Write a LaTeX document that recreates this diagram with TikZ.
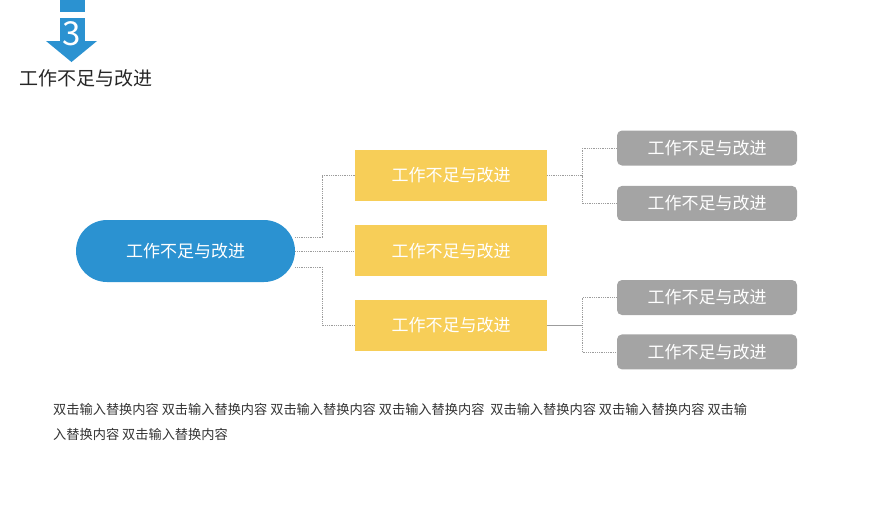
\documentclass[tikz,border=0pt]{standalone}
\usepackage{fontspec}
\setmainfont{Noto Sans CJK SC}
\usetikzlibrary{positioning}
\usetikzlibrary{backgrounds}
\definecolor{stepblue}{HTML}{2B92D1}
\definecolor{boxyellow}{HTML}{F7CE58}
\definecolor{boxgray}{HTML}{A4A4A4}
\definecolor{linegray}{HTML}{9C9C9C}
\tikzset{x=1pt, y=-1pt, % one unit is one pixel of the slide, y pointing down
pill/.style={ % The blue main topic
fill=stepblue, text=white,
rounded corners=31pt,
minimum width=219pt, minimum height=62pt,
font=\fontsize{17}{20}\selectfont},
ybox/.style={ % Yellow second level boxes
fill=boxyellow, text=white,
minimum width=192pt, minimum height=51pt,
font=\fontsize{17}{20}\selectfont},
gbox/.style={ % Gray leaves
fill=boxgray, text=white,
rounded corners=5pt,
minimum width=180pt, minimum height=35pt,
font=\fontsize{17}{20}\selectfont},
link/.style={ % Dotted connectors
draw=linegray, densely dotted, line width=0.8pt}}

\begin{document}
\begin{tikzpicture}
    \useasboundingbox (0,0) rectangle (896,504);
    % step marker
    \fill[stepblue] (60,0) rectangle (85,12);
    \fill[stepblue] (60,18) rectangle (85,41);
    \fill[stepblue] (46,41) -- (97,41) -- (71.5,62) -- cycle;
    \node[text=white, font=\fontsize{33}{36}\selectfont] (num) at (71.5,34) {3};
    \node[anchor=west, text=black!85, font=\fontsize{19}{22}\selectfont] (title) at (16,78) {工作不足与改进};

    \node[pill] (main) at (185.5,251) {工作不足与改进};
    \node[ybox] (y1) at (451,175.5) {工作不足与改进};
    \node[ybox, below=24pt of y1] (y2) {工作不足与改进};
    \node[ybox, below=23pt of y2] (y3) {工作不足与改进};
    \node[gbox] (g1) at (707,148) {工作不足与改进};
    \node[gbox, below=20pt of g1] (g2) {工作不足与改进};
    \node[gbox] (g3) at (707,297.5) {工作不足与改进};
    \node[gbox, below=19pt of g3] (g4) {工作不足与改进};

    \begin{pgfonlayer}{background}
    \draw[link] ([yshift=14pt]main.east) -- ++(27,0) |- (y1.west);
    \draw[link] (main.east |- y2.west) -- (y2.west);
    \draw[link] ([yshift=-16pt]main.east) -- ++(27,0) |- (y3.west);
    \draw[link] (y1.east) -- ++(35,0) coordinate (r1);
    \draw[link] (r1) |- (g1.west);
    \draw[link] (r1) |- (g2.west);
    \draw[linegray, line width=0.8pt] (y3.east) -- ++(35,0) coordinate (r3);
    \draw[link] (r3) |- (g3.west);
    \draw[link] (r3) |- (g4.west);
    \end{pgfonlayer}

    \node[anchor=north west, align=left, text=black!80, inner sep=0pt,
      font=\fontsize{13.2}{25}\selectfont] (note) at (53,403)
      {双击输入替换内容 双击输入替换内容 双击输入替换内容 双击输入替换内容 \ 双击输入替换内容 双击输入替换内容 双击输\\
       入替换内容 双击输入替换内容};
\end{tikzpicture}
\end{document}
